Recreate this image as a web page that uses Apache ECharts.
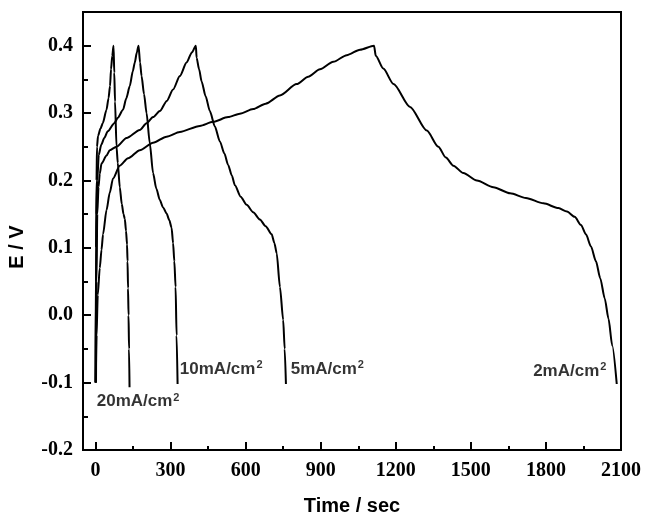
<!DOCTYPE html>
<html>
<head>
<meta charset="utf-8">
<script src="https://cdn.jsdelivr.net/npm/echarts@6/dist/echarts.min.js"></script>
<style>
   html, body { margin: 0; padding: 0; background: #fff; }
   #main { width: 646px; height: 515px; }
</style>
</head>
<body>
<div id="main"></div>
<script>
// 20mA/cm2
var time20 = [0, 2, 4, 6, 10, 20, 29, 44, 52, 58, 62, 67, 72, 75, 78, 84, 89, 97, 105, 112, 117, 122, 126, 128, 130, 132, 134, 136];
var volt20 = [-0.1, 0.1, 0.2, 0.25, 0.266, 0.277, 0.285, 0.305, 0.322, 0.34, 0.365, 0.385, 0.4, 0.36, 0.317, 0.25, 0.226, 0.19, 0.165, 0.15, 0.143, 0.125, 0.105, 0.08, 0.04, 0.0, -0.05, -0.107];
// 10mA/cm2
var time10 = [0, 2, 4, 7, 13, 23, 35, 49, 75, 89, 110, 123, 137, 149, 157, 165, 172, 178, 184, 194, 204, 217, 230, 243, 257, 270, 284, 295, 304, 310, 315, 320, 324, 328];
var volt10 = [-0.1, 0.05, 0.15, 0.2, 0.238, 0.253, 0.263, 0.273, 0.285, 0.293, 0.305, 0.322, 0.34, 0.362, 0.375, 0.39, 0.4, 0.375, 0.355, 0.328, 0.3, 0.255, 0.211, 0.188, 0.171, 0.16, 0.151, 0.141, 0.13, 0.107, 0.08, 0.042, -0.03, -0.102];
// 5mA/cm2
var time5 = [2, 4, 7, 12, 17, 24, 44, 57, 84, 124, 177, 204, 230, 257, 285, 310, 337, 364, 385, 401, 404, 414, 424, 440, 457, 477, 497, 515, 530, 545, 557, 580, 604, 630, 657, 680, 704, 715, 724, 737, 750, 756, 761];
var volt5 = [-0.1, 0.05, 0.15, 0.19, 0.21, 0.225, 0.237, 0.245, 0.25, 0.263, 0.275, 0.285, 0.294, 0.303, 0.318, 0.335, 0.355, 0.375, 0.39, 0.4, 0.382, 0.365, 0.347, 0.325, 0.303, 0.28, 0.258, 0.24, 0.223, 0.207, 0.193, 0.176, 0.164, 0.153, 0.142, 0.132, 0.12, 0.107, 0.092, 0.042, -0.007, -0.05, -0.102];
// 2mA/cm2
var time2 = [1, 4, 9, 17, 24, 30, 44, 57, 70, 97, 130, 177, 230, 284, 337, 417, 470, 530, 577, 630, 680, 737, 804, 850, 897, 950, 1004, 1057, 1113,
   1120, 1150, 1191, 1257, 1324, 1370, 1400, 1430, 1470, 1524, 1590, 1657, 1720, 1790, 1850, 1884, 1915, 1940, 1960, 1980, 2000, 2017, 2035, 2050, 2065, 2083];
var volt2 = [-0.1, -0.03, 0.03, 0.07, 0.097, 0.12, 0.156, 0.182, 0.203, 0.222, 0.233, 0.245, 0.256, 0.265, 0.272, 0.281, 0.287, 0.294, 0.299, 0.306, 0.314, 0.326, 0.343, 0.354, 0.365, 0.376, 0.386, 0.394, 0.4,
   0.385, 0.366, 0.343, 0.309, 0.274, 0.25, 0.234, 0.222, 0.211, 0.2, 0.19, 0.181, 0.174, 0.166, 0.159, 0.154, 0.146, 0.134, 0.12, 0.102, 0.08, 0.055, 0.025, -0.005, -0.045, -0.102];

// curve labels, anchored in data coords (left edge / middle)
var labelNames = ['20', '10', '5', '2'];
var labelTime = [5, 337, 780, 1749];
var labelVolt = [-0.128, -0.08, -0.08, -0.083];

var xTicks = [0, 300, 600, 900, 1200, 1500, 1800, 2100];
var xMinor = [150, 450, 750, 1050, 1350, 1650, 1950];
var yTicks = [-0.2, -0.1, 0.0, 0.1, 0.2, 0.3, 0.4];
var yMinor = [-0.15, -0.05, 0.05, 0.15, 0.25, 0.35];

function zip(t, v) {
   var out = [];
   for (var i = 0; i < t.length; i++) out.push([t[i], v[i]]);
   return out;
}

var chart = echarts.init(document.getElementById('main'));

var curves = [[time20, volt20], [time10, volt10], [time5, volt5], [time2, volt2]];
var series = curves.map(function (c, i) {
   return {
      name: labelNames[i] + 'mA/cm2',
      type: 'line',
      data: zip(c[0], c[1]),
      showSymbol: false,
      smooth: 0.25,
      smoothMonotone: 'x',
      lineStyle: { color: '#000', width: 2 },
      silent: true
   };
});

var labelData = labelNames.map(function (n, i) {
   return { value: [labelTime[i], labelVolt[i]], name: n };
});
series.push({
   type: 'scatter',
   data: labelData,
   symbolSize: 0,
   silent: true,
   itemStyle: { color: '#000' },
   label: {
      show: true,
      position: 'right',
      distance: 0,
      color: '#000',
      fontWeight: 'bold',
      formatter: function (p) { return '{a|' + p.name + 'mA/cm}{s|2}'; },
      rich: {
         a: { fontFamily: 'Liberation Sans', fontWeight: 'bold', fontSize: 17, color: '#000' },
         s: { fontFamily: 'Liberation Sans', fontWeight: 'bold', fontSize: 11, color: '#000', verticalAlign: 'top', padding: [0, 0, 8, 1] }
      }
   }
});

var tickFont = { fontFamily: 'Liberation Serif', fontWeight: 'bold', fontSize: 20, color: '#000' };
var nameFont = { fontFamily: 'Liberation Sans', fontWeight: 'bold', fontSize: 20, color: '#000' };

var option = {
   animation: false,
   grid: {
      left: 83, right: 25, top: 12, bottom: 65,
      show: true, borderColor: '#000', borderWidth: 2,
      outerBoundsMode: 'none'
   },
   xAxis: [
      {
         type: 'value', min: -50, max: 2100,
         name: 'Time / sec', nameLocation: 'middle', nameGap: 46, nameTextStyle: nameFont,
         axisLine: { show: true, onZero: false, lineStyle: { color: '#000', width: 2 } },
         axisTick: { inside: true, length: 8, lineStyle: { color: '#000', width: 2 }, customValues: xTicks },
         axisLabel: Object.assign({
            margin: 11, customValues: xTicks,
            formatter: function (v) { return String(v); }
         }, tickFont),
         splitLine: { show: false }
      },
      {
         type: 'value', min: -50, max: 2100, position: 'bottom',
         axisLine: { show: false, onZero: false },
         axisTick: { inside: true, length: 4, lineStyle: { color: '#000', width: 2 }, customValues: xMinor },
         axisLabel: { show: false },
         splitLine: { show: false }
      }
   ],
   yAxis: [
      {
         type: 'value', min: -0.2, max: 0.45,
         name: 'E / V', nameLocation: 'middle', nameGap: 56,
         nameTextStyle: Object.assign({ padding: [0, 32, 0, 0] }, nameFont),
         axisLine: { show: true, onZero: false, lineStyle: { color: '#000', width: 2 } },
         axisTick: { inside: true, length: 8, lineStyle: { color: '#000', width: 2 }, customValues: yTicks },
         axisLabel: Object.assign({
            margin: 10, customValues: yTicks,
            formatter: function (v) { return v.toFixed(1); }
         }, tickFont),
         splitLine: { show: false }
      },
      {
         type: 'value', min: -0.2, max: 0.45, position: 'left',
         axisLine: { show: false, onZero: false },
         axisTick: { inside: true, length: 5, lineStyle: { color: '#000', width: 2 }, customValues: yMinor },
         axisLabel: { show: false },
         splitLine: { show: false }
      }
   ],
   series: series
};

chart.setOption(option);
</script>
</body>
</html>
